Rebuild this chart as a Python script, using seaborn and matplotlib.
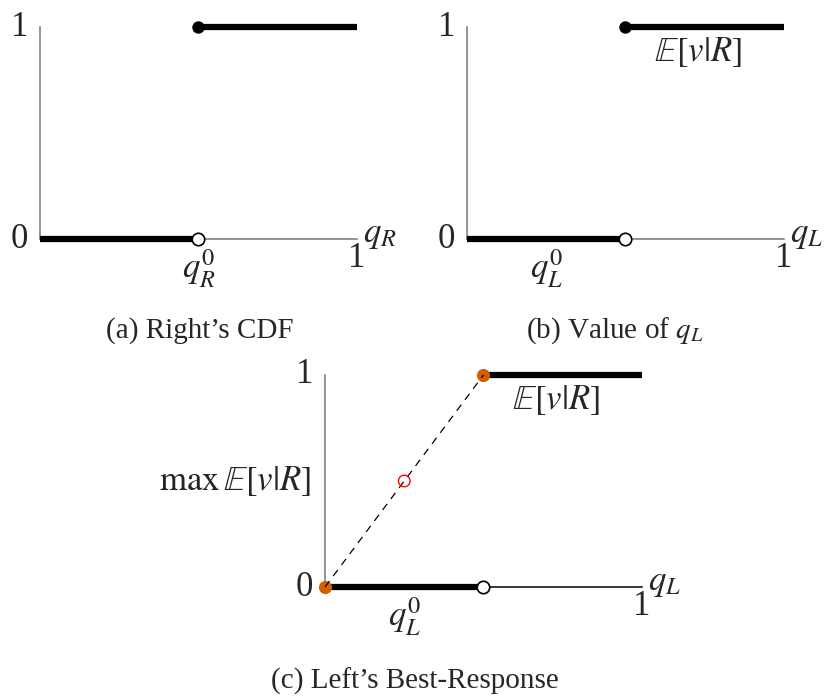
import matplotlib
matplotlib.use("Agg")
import matplotlib.pyplot as plt
import seaborn as sns
import pandas as pd

sns.set_theme(style="white")
plt.rcParams['font.family'] = ['Liberation Serif', 'DejaVu Serif']
plt.rcParams['mathtext.fontset'] = 'stix'

# data
q0 = 0.5                      # threshold q^0
low_x = [0.0, q0]; low_y = [0.0, 0.0]
high_x = [q0, 1.0]; high_y = [1.0, 1.0]
diag_x = [0.0, q0]; diag_y = [0.0, 1.0]
mid_pt = (q0 / 2, 0.5)
captions = ["(a) Right’s CDF", r"(b) Value of $q_L$", "(c) Left’s Best-Response"]
xlabels = [r"$q_R$", r"$q_L$", r"$q_L$"]
q0labels = [r"$q_R^0$", r"$q_L^0$", r"$q_L^0$"]

W, H = 828, 696
fig = plt.figure(figsize=(W / 100, H / 100), dpi=100)

def make_ax(left, top, right, bottom):
    return fig.add_axes([left / W, 1 - bottom / H, (right - left) / W, (bottom - top) / H])

boxes = [(40, 27, 357, 239), (467, 27, 784, 239), (325, 375, 642, 587)]
FS = 25
LW = 4.5

for i, box in enumerate(boxes):
    ax = make_ax(*box)
    ax.set_xlim(0, 1); ax.set_ylim(0, 1)
    ax.set_facecolor('none')
    for s in ['top', 'right']:
        ax.spines[s].set_visible(False)
    axis_col = '#777777' if i < 2 else '#000000'
    ax.spines['bottom'].set_color(axis_col)
    ax.spines['left'].set_color('#777777')
    ax.spines['bottom'].set_linewidth(1.1)
    ax.spines['left'].set_linewidth(1.1)
    ax.set_xticks([]); ax.set_yticks([])
    ax.set_xlabel(''); ax.set_ylabel('')

    sns.lineplot(x=low_x, y=low_y, ax=ax, color='black', lw=LW, clip_on=False,
                 solid_capstyle='butt', zorder=3)
    sns.lineplot(x=high_x, y=high_y, ax=ax, color='black', lw=LW, clip_on=False,
                 solid_capstyle='butt', zorder=3)
    # open circle at (q0, 0)
    sns.scatterplot(x=[q0], y=[0.0], ax=ax, s=80, facecolor='white', edgecolor='black',
                    linewidth=1.2, clip_on=False, zorder=5)
    if i < 2:
        sns.scatterplot(x=[q0], y=[1.0], ax=ax, s=80, color='black', edgecolor='black',
                        linewidth=0, clip_on=False, zorder=5)
    else:
        sns.scatterplot(x=[0.0, q0], y=[0.0, 1.0], ax=ax, s=90, color='#D35F00',
                        edgecolor='#D35F00', linewidth=0, clip_on=False, zorder=5)
        sns.lineplot(x=diag_x, y=diag_y, ax=ax, color='black', lw=0.9,
                     linestyle=(0, (6, 5)), clip_on=False, zorder=6)
        sns.scatterplot(x=[mid_pt[0]], y=[mid_pt[1]], ax=ax, s=70, facecolor='none',
                        edgecolor='red', linewidth=1.0, clip_on=False, zorder=7)
        ax.text(-0.045, 0.5, r"$\max\,\mathbb{E}[v|R]$", ha='right', va='center',
                fontsize=FS, transform=ax.transAxes)
    if i >= 1:
        ax.text(0.73, 0.88, r"$\mathbb{E}[v|R]$", ha='center', va='center',
                fontsize=FS, transform=ax.transAxes)

    ax.text(-0.065, 1.0, "1", ha='center', va='center', fontsize=FS, transform=ax.transAxes)
    ax.text(-0.065, 0.0, "0", ha='center', va='center', fontsize=FS, transform=ax.transAxes)
    ax.text(1.0, -0.09, "1", ha='center', va='center', fontsize=FS, transform=ax.transAxes)
    ax.text(1.02, 0.02, xlabels[i], ha='left', va='center', fontsize=FS,
            transform=ax.transAxes)
    qx = q0 if i == 0 else 0.25
    ax.text(qx, -0.14, q0labels[i], ha='center', va='center', fontsize=FS,
            transform=ax.transAxes)

# captions
fig.text(200 / W, 1 - 331 / H, captions[0], ha='center', va='center', fontsize=21)
fig.text(615 / W, 1 - 331 / H, captions[1], ha='center', va='center', fontsize=21)
fig.text(415 / W, 1 - 681 / H, captions[2], ha='center', va='center', fontsize=21)

fig.savefig("out.png", dpi=100)
